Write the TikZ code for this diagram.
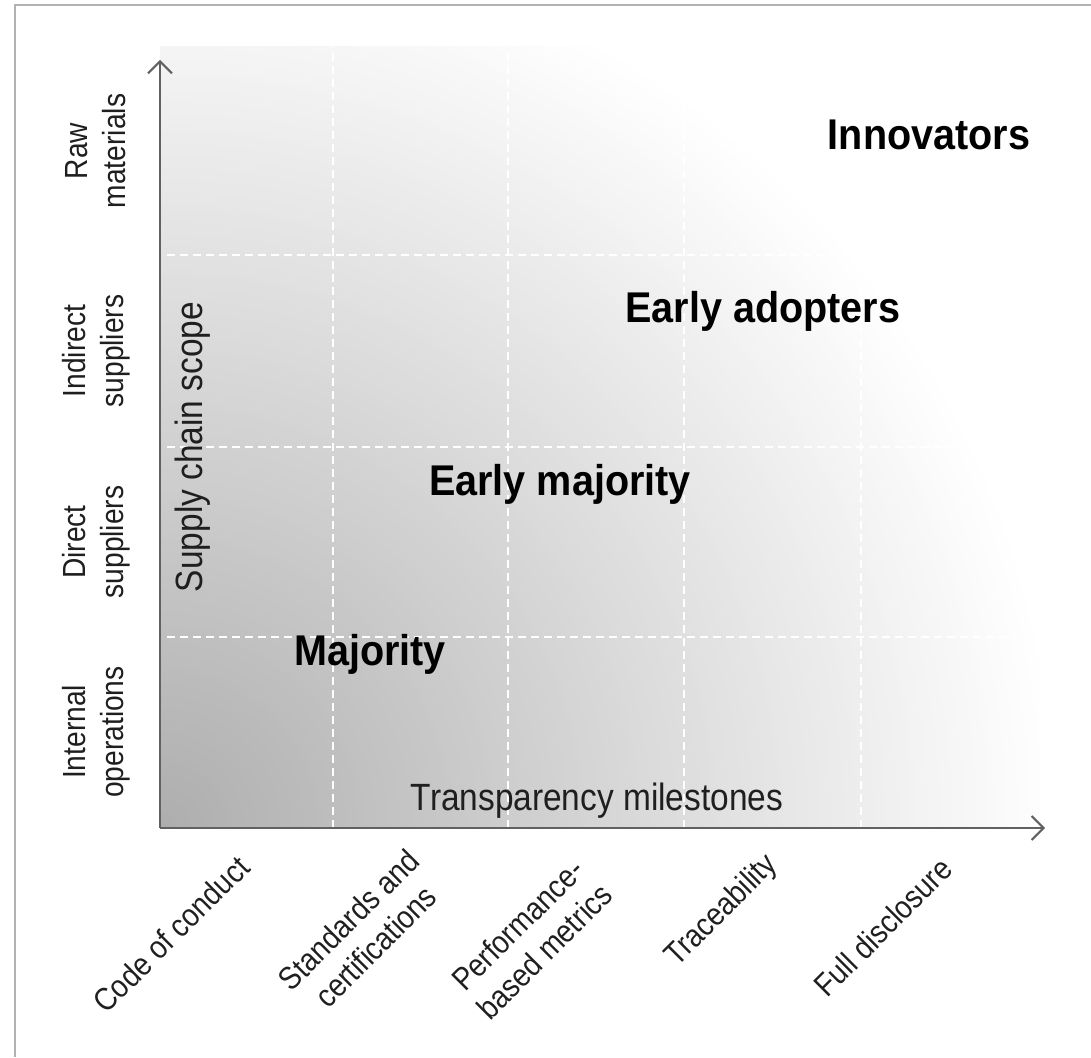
\documentclass[tikz,border=0pt]{standalone}
\usepackage{fontspec}
\setmainfont{Liberation Sans}
\newfontfamily\narrowfont[FakeStretch=0.88]{Liberation Sans}
\newfontfamily\groupfont[FakeStretch=0.92]{Liberation Sans}
\usetikzlibrary{arrows.meta}

\begin{document}
\begin{tikzpicture}[x=0.5pt,y=0.5pt,
  axis/.style={draw=black!62, line width=1pt,
    -{Straight Barb[length=6pt,width=12pt,line width=1pt]}},
  gridline/.style={white, line width=0.8pt, dash pattern=on 4pt off 2.5pt},
  scopelabel/.style={font=\narrowfont\fontsize{16}{19}\selectfont,
    align=center, text=black!88, rotate=90, inner sep=0pt},
  milestone/.style={font=\narrowfont\fontsize{16}{19}\selectfont,
    align=center, text=black!88, rotate=45, inner sep=0pt},
  axistitle/.style={font=\narrowfont\fontsize{19}{22}\selectfont,
    text=black!88, inner sep=0pt},
  group/.style={font=\groupfont\bfseries\fontsize{21.5}{24}\selectfont,
    inner sep=0pt, anchor=base}]
\useasboundingbox (0,0) rectangle (1091,1057);

% frame
\draw[black!30, line width=1pt] (15,0) -- (15,1052) -- (1091,1052);

\coordinate (origin) at (160,229);
\coordinate (ytip) at (160,997);
\coordinate (xtip) at (1045,229);

% background fade, darkest at the origin
\begin{scope}
\clip (160,229) rectangle (1040,1010);
\foreach \r in {900,894,...,6}{
  \pgfmathsetmacro\fadeval{32*(1-\r/900)}
  \fill[black!\fadeval] (origin) circle[radius=\r];
}
\end{scope}

% grid
\foreach \gx in {333,508,684,861}
  \draw[gridline] (\gx,229) -- (\gx,1010);
\foreach \gy in {420,610,802}
  \draw[gridline] (167,\gy) -- (1040,\gy);

% axes
\draw[axis] (origin) -- (ytip);
\draw[axis] (origin) -- (xtip);

% scope rows
\node[scopelabel] (raw) at (96,906) {Raw\\materials};
\node[scopelabel] (indirect) at (96,706) {Indirect\\suppliers};
\node[scopelabel] (direct) at (96,515) {Direct\\suppliers};
\node[scopelabel] (internal) at (96,325) {Internal\\operations};
\node[axistitle, rotate=90] (scopetitle) at (193,610) {Supply chain scope};

% milestones
\node[milestone] (conduct) at (171,123) {Code of conduct};
\node[milestone] (standards) at (362,124) {Standards and\\certifications};
\node[milestone] (metrics) at (531,119) {Performance-\\based metrics};
\node[milestone] (trace) at (722,146) {Traceability};
\node[milestone] (disclosure) at (883,130) {Full disclosure};
\node[axistitle, anchor=base] (milestonetitle) at (597,247) {Transparency milestones};

% adopter groups
\node[group] (innovators) at (929,907) {Innovators};
\node[group] (early) at (763,735) {Early adopters};
\node[group] (earlymaj) at (560,562) {Early majority};
\node[group] (majority) at (370,392) {Majority};
\end{tikzpicture}
\end{document}
